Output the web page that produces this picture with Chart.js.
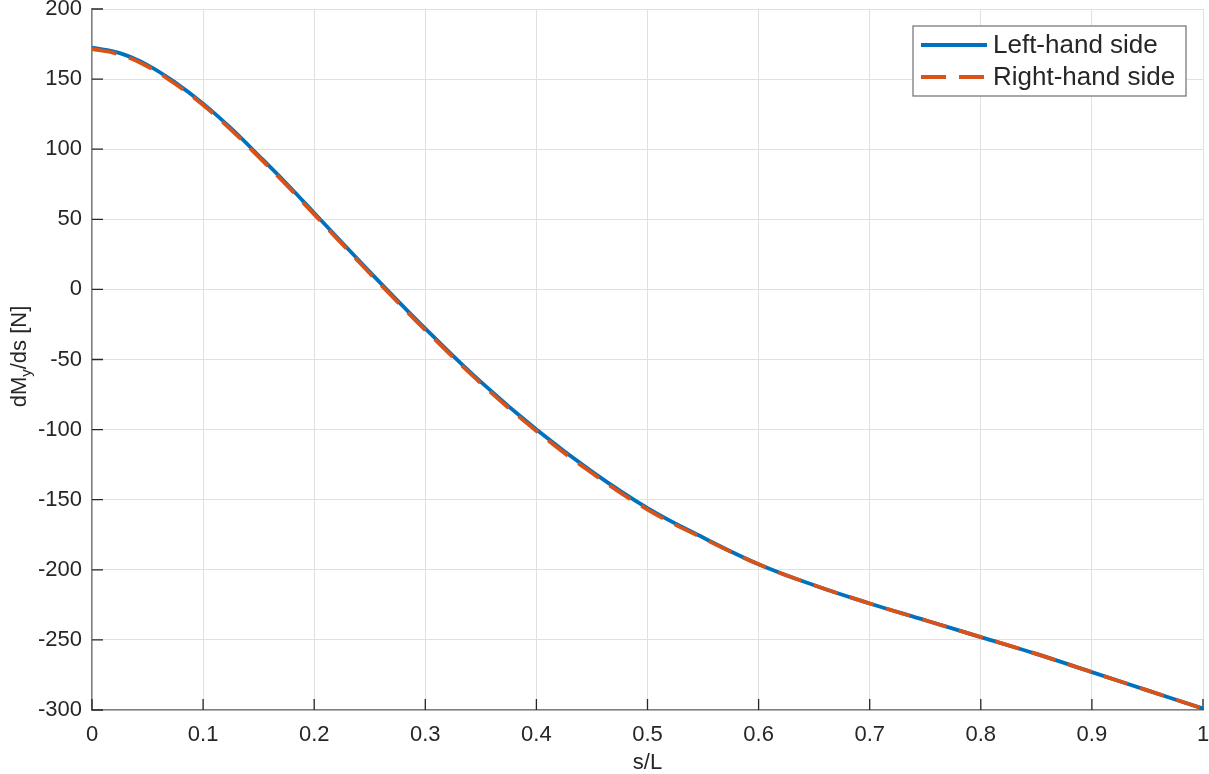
<!DOCTYPE html>
<html>
<head>
<meta charset="utf-8">
<script src="https://cdn.jsdelivr.net/npm/chart.js@4.4.1/dist/chart.umd.min.js"></script>
<style>
  html, body { margin: 0; padding: 0; background: #fff; }
  #wrap { width: 1209px; height: 774px; }
</style>
</head>
<body>
<div id="wrap"><canvas id="chart" width="1209" height="774"></canvas></div>
<script>
// Data
const sValues   = [0, 0.025, 0.05, 0.075, 0.1, 0.125, 0.15, 0.175, 0.2, 0.225, 0.25, 0.275, 0.3, 0.35, 0.4, 0.45, 0.5, 0.55, 0.6, 0.65, 0.7, 0.75, 0.8, 0.85, 0.9, 0.95, 1];
const lhsValues = [172.5, 168.5, 160, 147.5, 132.5, 115, 95.5, 75.5, 54.5, 33.5, 12.5, -8, -28, -66, -100, -130, -156, -177, -196, -211, -224, -236, -248, -260, -273, -286, -299];
const rhsValues = [171.5, 167.5, 159, 146.5, 131.5, 114, 94.5, 74.5, 53.5, 32.5, 11.5, -9, -29, -67, -101, -131, -157, -177.5, -196, -211, -224, -236, -248, -260, -273, -286, -299];
const seriesLabels = ['Left-hand side', 'Right-hand side'];
const xTitle = 's/L';

const FONT = '"Liberation Sans", Arial, Helvetica, sans-serif';
const TEXT = '#262626';

function toPoints(ys) {
    return sValues.map((s, i) => ({ x: s, y: ys[i] }));
}

// MATLAB-style inward tick marks
const innerTicks = {
    id: 'innerTicks',
    beforeDatasetsDraw(chart) {
        const { ctx, chartArea, scales } = chart;
        ctx.save();
        ctx.strokeStyle = TEXT;
        ctx.lineWidth = 1.3;
        ctx.beginPath();
        scales.x.ticks.forEach(t => {
            const px = scales.x.getPixelForValue(t.value);
            ctx.moveTo(px, chartArea.bottom);
            ctx.lineTo(px, chartArea.bottom - 11);
        });
        scales.y.ticks.forEach(t => {
            const py = scales.y.getPixelForValue(t.value);
            ctx.moveTo(chartArea.left, py);
            ctx.lineTo(chartArea.left + 11, py);
        });
        ctx.stroke();
        ctx.restore();
    }
};

// y axis title with subscript
const yTitle = {
    id: 'yTitle',
    afterDraw(chart) {
        const { ctx, chartArea } = chart;
        const parts = [
            { t: 'dM', size: 22, dy: 0 },
            { t: 'y', size: 15, dy: 5 },
            { t: '/ds [N]', size: 22, dy: 0 }
        ];
        ctx.save();
        let total = 0;
        parts.forEach(p => {
            ctx.font = p.size + 'px ' + FONT;
            p.w = ctx.measureText(p.t).width;
            total += p.w;
        });
        ctx.translate(18, (chartArea.top + chartArea.bottom) / 2 - 3);
        ctx.rotate(-Math.PI / 2);
        ctx.fillStyle = TEXT;
        ctx.textBaseline = 'alphabetic';
        let x = -total / 2;
        parts.forEach(p => {
            ctx.font = p.size + 'px ' + FONT;
            ctx.fillText(p.t, x, 8 + p.dy);
            x += p.w;
        });
        ctx.restore();
    }
};

// legend box in the top right corner
const boxLegend = {
    id: 'boxLegend',
    afterDraw(chart) {
        const { ctx } = chart;
        const left = 913, top = 26, w = 273, h = 70;
        ctx.save();
        ctx.fillStyle = '#ffffff';
        ctx.fillRect(left, top, w, h);
        ctx.strokeStyle = '#7a7a7a';
        ctx.lineWidth = 1.3;
        ctx.strokeRect(left, top, w, h);
        chart.data.datasets.forEach((ds, i) => {
            const y = top + 19 + i * 32;
            ctx.beginPath();
            ctx.strokeStyle = ds.borderColor;
            ctx.lineWidth = ds.borderWidth;
            ctx.setLineDash(ds.borderDash || []);
            ctx.moveTo(921, y);
            ctx.lineTo(987, y);
            ctx.stroke();
            ctx.setLineDash([]);
            ctx.fillStyle = TEXT;
            ctx.font = '26px ' + FONT;
            ctx.textBaseline = 'middle';
            ctx.fillText(ds.label, 993, y + 1);
        });
        ctx.restore();
    }
};

const ctx = document.getElementById('chart').getContext('2d');
new Chart(ctx, {
    type: 'line',
    data: {
        datasets: [
            {
                label: seriesLabels[0],
                data: toPoints(lhsValues),
                borderColor: '#0072BD',
                borderWidth: 3.8,
                pointRadius: 0,
                tension: 0.4,
                order: 1,
                fill: false
            },
            {
                label: seriesLabels[1],
                data: toPoints(rhsValues),
                borderColor: '#D95319',
                borderWidth: 3.8,
                borderDash: [25, 13],
                pointRadius: 0,
                tension: 0.4,
                order: 0,
                fill: false
            }
        ]
    },
    options: {
        responsive: false,
        animation: false,
        devicePixelRatio: 1,
        layout: { padding: { top: 9, right: 6, left: 0, bottom: 0 } },
        plugins: {
            legend: { display: false },
            tooltip: { enabled: false }
        },
        scales: {
            x: {
                type: 'linear',
                min: 0,
                max: 1,
                afterFit(s) { s.height = 64; s.paddingLeft = 0; s.paddingRight = 0; },
                ticks: {
                    stepSize: 0.1,
                    maxRotation: 0,
                    padding: 12,
                    color: TEXT,
                    font: { family: FONT, size: 22 },
                    callback: v => String(Math.round(v * 10) / 10)
                },
                grid: { color: '#e0e0e0', lineWidth: 1, drawTicks: false },
                border: { color: '#808080', width: 1.5 },
                title: {
                    display: true,
                    text: xTitle,
                    color: TEXT,
                    font: { family: FONT, size: 22, lineHeight: 1 },
                    padding: { top: 0, bottom: 0 }
                }
            },
            y: {
                min: -300,
                max: 200,
                afterFit(s) { s.width = 92; s.paddingTop = 0; s.paddingBottom = 0; },
                ticks: {
                    stepSize: 50,
                    padding: 10,
                    color: TEXT,
                    font: { family: FONT, size: 22 }
                },
                grid: { color: '#e0e0e0', lineWidth: 1, drawTicks: false },
                border: { color: '#808080', width: 1.5 }
            }
        }
    },
    plugins: [innerTicks, yTitle, boxLegend]
});
</script>
</body>
</html>
